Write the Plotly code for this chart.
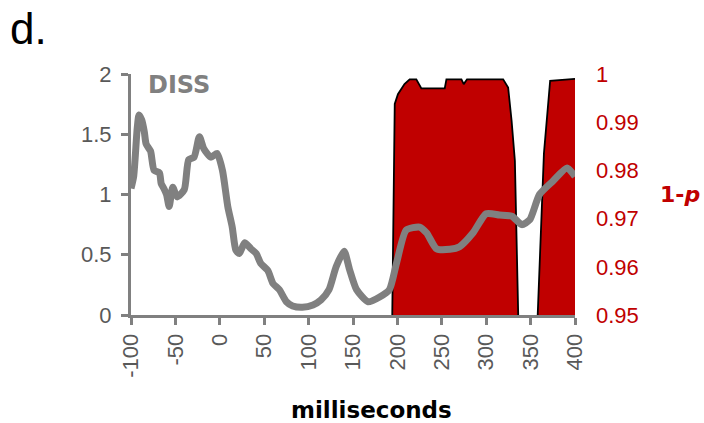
import plotly.graph_objects as go

# DISS (global dissimilarity) time course
diss_ms = [-100, -97, -93, -91, -88, -85, -83, -78, -74, -68, -66, -63, -60, -57, -53, -48,
           -40, -35, -29, -23, -18, -10, -3, 3, 9, 14, 18, 22, 28, 35, 41, 46, 54, 60, 67,
           75, 82, 93, 105, 114, 123, 131, 140, 146, 154, 167, 180, 191, 199, 210, 225,
           233, 244, 259, 270, 285, 300, 315, 329, 340, 349, 360, 375, 391, 400]
diss_val = [1.05, 1.15, 1.55, 1.66, 1.62, 1.52, 1.42, 1.36, 1.20, 1.18, 1.09, 1.05, 1.00, 0.90,
            1.06, 0.98, 1.04, 1.29, 1.31, 1.48, 1.38, 1.31, 1.34, 1.20, 0.90, 0.73, 0.54, 0.51,
            0.60, 0.55, 0.51, 0.43, 0.37, 0.26, 0.21, 0.11, 0.075, 0.064, 0.083, 0.125, 0.21,
            0.40, 0.53, 0.38, 0.21, 0.11, 0.15, 0.21, 0.43, 0.705, 0.73, 0.68, 0.55, 0.545,
            0.567, 0.68, 0.84, 0.83, 0.82, 0.75, 0.79, 1.00, 1.11, 1.22, 1.15]

# 1-p significance (values below 0.95 fall outside the axis)
p_ms = [-100, 191, 197, 200.6, 208, 213.8, 221.3, 227, 253.3, 255.2, 272.1, 274.7, 278.4,
        319.1, 324.7, 328.6, 332.3, 336, 340, 354, 358, 365, 372, 400]
p_val = [0.90, 0.90, 0.9938, 0.9958, 0.9979, 0.9989, 0.9989, 0.9970, 0.9970, 0.9989, 0.9989,
         0.9979, 0.9989, 0.9989, 0.9972, 0.9903, 0.982, 0.9504, 0.90, 0.90, 0.95, 0.9835,
         0.9986, 0.999]

x_ticks = list(range(-100, 401, 50))
x_ticktext = [str(v) for v in x_ticks]
diss_ticks = [0, 0.5, 1, 1.5, 2]
diss_ticktext = ["0", "0.5", "1", "1.5", "2"]
p_ticks = [0.95, 0.96, 0.97, 0.98, 0.99, 1.0]
p_ticktext = ["0.95", "0.96", "0.97", "0.98", "0.99", "1"]

GRAY = "#808080"
LABEL = "#595959"
RED = "#C00000"
TICKFAM = "Liberation Sans, Arial, sans-serif"
BOLDFAM = "DejaVu Sans, sans-serif"
TICKFONT = dict(family=TICKFAM, size=22, color=LABEL)

L, R, T, B = 131, 129, 74, 108
PW, PH = 704 - L - R, 423 - T - B

fig = go.Figure()
fig.add_trace(go.Scatter(
    x=p_ms, y=p_val, yaxis="y", mode="lines", fill="tozeroy",
    fillcolor=RED, line=dict(color="black", width=1.8), hoverinfo="skip"))
fig.add_trace(go.Scatter(
    x=diss_ms, y=diss_val, yaxis="y2", mode="lines",
    line=dict(color=GRAY, width=7, shape="spline", smoothing=0.6)))

fig.update_layout(
    width=704, height=423,
    margin=dict(l=L, r=R, t=T, b=B),
    paper_bgcolor="white", plot_bgcolor="white",
    showlegend=False,
    xaxis=dict(range=[-100, 400], tickvals=x_ticks, ticktext=x_ticktext, tickangle=-90,
               showline=True, linecolor=GRAY, linewidth=3,
               ticks="outside", ticklen=7, tickwidth=3, tickcolor=GRAY,
               showgrid=False, zeroline=False, tickfont=TICKFONT,
               ticklabelstandoff=0),
    yaxis=dict(range=[0.95, 1.0], side="right", tickvals=p_ticks, ticktext=p_ticktext,
               showline=False, ticks="", showgrid=False, zeroline=False,
               tickfont=dict(family=TICKFAM, size=22, color=RED),
               ticklabelstandoff=20),
    yaxis2=dict(range=[0, 2], overlaying="y", side="left", anchor="x",
                tickvals=diss_ticks, ticktext=diss_ticktext,
                showline=True, linecolor=GRAY, linewidth=3,
                ticks="outside", ticklen=7, tickwidth=3, tickcolor=GRAY,
                showgrid=False, zeroline=False, tickfont=TICKFONT,
                ticklabelstandoff=5),
)

fig.add_annotation(text="d.", xref="paper", yref="paper", x=-L / PW, y=1 + T / PH,
                   xanchor="left", yanchor="top", showarrow=False, xshift=8, yshift=-2,
                   font=dict(family=TICKFAM, size=44, color="black"))
fig.add_annotation(text="<b>DISS</b>", xref="paper", yref="paper", x=(146 - L) / PW, y=1,
                   xanchor="left", yanchor="top", showarrow=False, yshift=5,
                   font=dict(family=BOLDFAM, size=24, color=GRAY))
fig.add_annotation(text="<b>1-<i>p</i></b>", xref="paper", yref="paper", x=(680 - L) / PW,
                   y=(315 - 194) / PH, xanchor="center", yanchor="middle", showarrow=False,
                   font=dict(family=BOLDFAM, size=22, color=RED))
fig.add_annotation(text="<b>milliseconds</b>", xref="paper", yref="paper", x=(371 - L) / PW,
                   y=-(410 - 315) / PH, xanchor="center", yanchor="middle", showarrow=False,
                   font=dict(family=BOLDFAM, size=23, color="black"))

fig.write_html("out.html", config={"displayModeBar": False},
               post_script="document.body.style.margin='0';document.body.style.padding='0';")
